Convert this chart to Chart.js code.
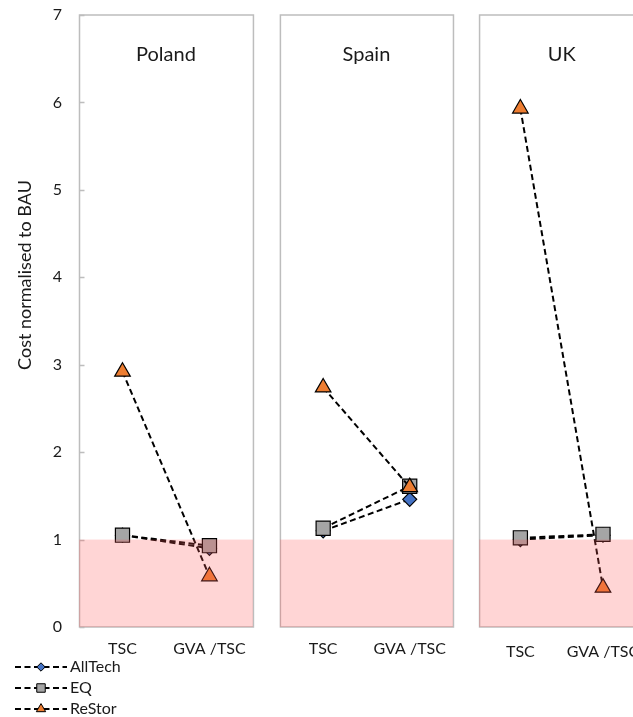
<!DOCTYPE html>
<html>
<head>
<meta charset="utf-8">
<script src="https://cdn.jsdelivr.net/npm/chart.js@4.4.1/dist/chart.umd.min.js"></script>
<style>
  html, body { margin: 0; padding: 0; background: #fff; }
  #wrap { width: 633px; height: 717px; position: relative; }
</style>
</head>
<body>
<div id="wrap"><canvas id="c" width="633" height="717"></canvas></div>
<script>
// Cost of each scenario, normalised to business-as-usual, per country
const regions = ['Poland', 'Spain', 'UK'];
const categories = ['TSC', 'GVA /TSC'];
const allTech = [[1.05, 0.90], [1.10, 1.46], [1.00, 1.05]];
const eq      = [[1.05, 0.93], [1.13, 1.61], [1.02, 1.06]];
const reStor  = [[2.92, 0.58], [2.74, 1.60], [5.93, 0.45]];
const yTicks = [0, 1, 2, 3, 4, 5, 6, 7];
const bauLevel = 1; // below this the scenario is cheaper than BAU

// Panel layout along the x axis (axis units)
const panelLeft = [0, 2.31, 4.60];
const panelWidth = [2, 1.99, 1.9];
const labelDrop = [0, 0, 3];
const xMax = 6.37;
const yMax = 7;

const FONT = 'Lato, "Noto Sans", sans-serif';
const TEXT = '#1a1a1a';

function catX(p, i) {
  return panelLeft[p] + panelWidth[p] * (0.25 + 0.5 * i);
}

function buildSeries(values) {
  const pts = [];
  values.forEach((pair, p) => {
    pair.forEach((v, i) => pts.push({ x: catX(p, i), y: v }));
    if (p < values.length - 1) pts.push({ x: panelLeft[p] + panelWidth[p] + 0.1, y: null });
  });
  return pts;
}

const seriesDefs = [
  { label: 'AllTech', values: allTech, style: 'rectRot',  radius: 7,  color: '#4472C4', order: 3 },
  { label: 'EQ',      values: eq,      style: 'rect',     radius: 10, color: '#A5A5A5', order: 2 },
  { label: 'ReStor',  values: reStor,  style: 'triangle', radius: 9,  color: '#ED7D31', order: 1 }
];

const datasets = seriesDefs.map(s => ({
  label: s.label,
  data: buildSeries(s.values),
  order: s.order,
  borderColor: '#000',
  borderWidth: 2,
  borderDash: [6, 3.5],
  fill: false,
  tension: 0,
  spanGaps: false,
  clip: false,
  pointStyle: s.style,
  pointRadius: s.radius,
  pointHoverRadius: s.radius,
  pointBackgroundColor: s.color,
  pointBorderColor: '#000',
  pointBorderWidth: 1.2
}));

// Boxes, titles and inner tick marks behind the series
const panelPlugin = {
  id: 'panels',
  beforeDatasetsDraw(chart) {
    const { ctx, scales: { x, y } } = chart;
    const top = y.getPixelForValue(yMax);
    const bottom = y.getPixelForValue(0);
    ctx.save();
    ctx.strokeStyle = '#BDBDBD';
    ctx.lineWidth = 1.5;
    regions.forEach((r, p) => {
      const l = x.getPixelForValue(panelLeft[p]);
      const rr = x.getPixelForValue(panelLeft[p] + panelWidth[p]);
      ctx.strokeRect(l + 0.5, top, rr - l, bottom - top);
      ctx.fillStyle = TEXT;
      ctx.font = '20px ' + FONT;
      ctx.textAlign = 'center';
      ctx.textBaseline = 'middle';
      ctx.fillText(r, (l + rr) / 2, top + 40);
    });
    const left = x.getPixelForValue(0) + 0.5;
    ctx.beginPath();
    yTicks.forEach(v => {
      const py = Math.round(y.getPixelForValue(v)) + 0.5;
      ctx.moveTo(left, py);
      ctx.lineTo(left + 5, py);
    });
    ctx.stroke();
    ctx.restore();
  },
  // translucent band marking costs below BAU, laid over the markers
  afterDatasetsDraw(chart) {
    const { ctx, scales: { x, y } } = chart;
    const yTop = y.getPixelForValue(bauLevel);
    const yBot = y.getPixelForValue(0);
    ctx.save();
    ctx.fillStyle = 'rgba(255, 87, 87, 0.25)';
    regions.forEach((r, p) => {
      const l = x.getPixelForValue(panelLeft[p]);
      const rr = x.getPixelForValue(panelLeft[p] + panelWidth[p]);
      ctx.fillRect(l, yTop, rr - l, yBot - yTop);
    });
    ctx.restore();
  },
  afterDraw(chart) {
    const { ctx, scales: { x, y } } = chart;

    // category labels under each panel
    ctx.save();
    ctx.fillStyle = TEXT;
    ctx.font = '16px ' + FONT;
    ctx.textAlign = 'center';
    ctx.textBaseline = 'middle';
    const base = y.getPixelForValue(0) + 22;
    regions.forEach((r, p) => categories.forEach((c, i) => {
      ctx.fillText(c, x.getPixelForValue(catX(p, i)), base + labelDrop[p]);
    }));
    ctx.restore();

    // vertical axis title
    ctx.save();
    ctx.fillStyle = TEXT;
    ctx.font = '18px ' + FONT;
    ctx.textAlign = 'center';
    ctx.textBaseline = 'middle';
    ctx.translate(25, 275);
    ctx.rotate(-Math.PI / 2);
    ctx.fillText('Cost normalised to BAU', 0, 0);
    ctx.restore();

    // legend: dashed line with the series marker in the middle
    const rows = [667, 688, 709];
    seriesDefs.forEach((s, k) => {
      const cy = rows[k];
      ctx.save();
      ctx.strokeStyle = '#000';
      ctx.lineWidth = 2;
      ctx.setLineDash([6, 3.5]);
      ctx.beginPath();
      ctx.moveTo(15, cy);
      ctx.lineTo(67, cy);
      ctx.stroke();
      ctx.setLineDash([]);
      ctx.fillStyle = s.color;
      ctx.strokeStyle = '#000';
      ctx.lineWidth = 1;
      Chart.helpers.drawPoint(ctx, { pointStyle: s.style, radius: s.radius * 0.6, rotation: 0, borderWidth: 1 }, 41, cy);
      ctx.fillStyle = TEXT;
      ctx.font = '16px ' + FONT;
      ctx.textAlign = 'left';
      ctx.textBaseline = 'middle';
      ctx.fillText(s.label, 70, cy);
      ctx.restore();
    });
  }
};

new Chart(document.getElementById('c'), {
  type: 'line',
  data: { datasets },
  options: {
    responsive: false,
    animation: false,
    layout: { autoPadding: false, padding: { left: 0, right: 0, top: 15, bottom: 0 } },
    plugins: { legend: { display: false }, tooltip: { enabled: false } },
    scales: {
      x: {
        type: 'linear',
        min: 0,
        max: xMax,
        grid: { display: false, drawTicks: false },
        border: { display: false },
        ticks: { display: false },
        afterFit: s => { s.height = 90; s.paddingLeft = 0; s.paddingRight = 0; }
      },
      y: {
        min: 0,
        max: yMax,
        grid: { display: false, drawTicks: false },
        border: { display: false },
        afterBuildTicks: s => { s.ticks = yTicks.map(v => ({ value: v })); },
        ticks: {
          padding: 17,
          color: TEXT,
          font: { family: FONT, size: 16 }
        },
        afterFit: s => { s.width = 79; s.paddingTop = 0; s.paddingBottom = 0; }
      }
    }
  },
  plugins: [panelPlugin]
});
</script>
</body>
</html>
